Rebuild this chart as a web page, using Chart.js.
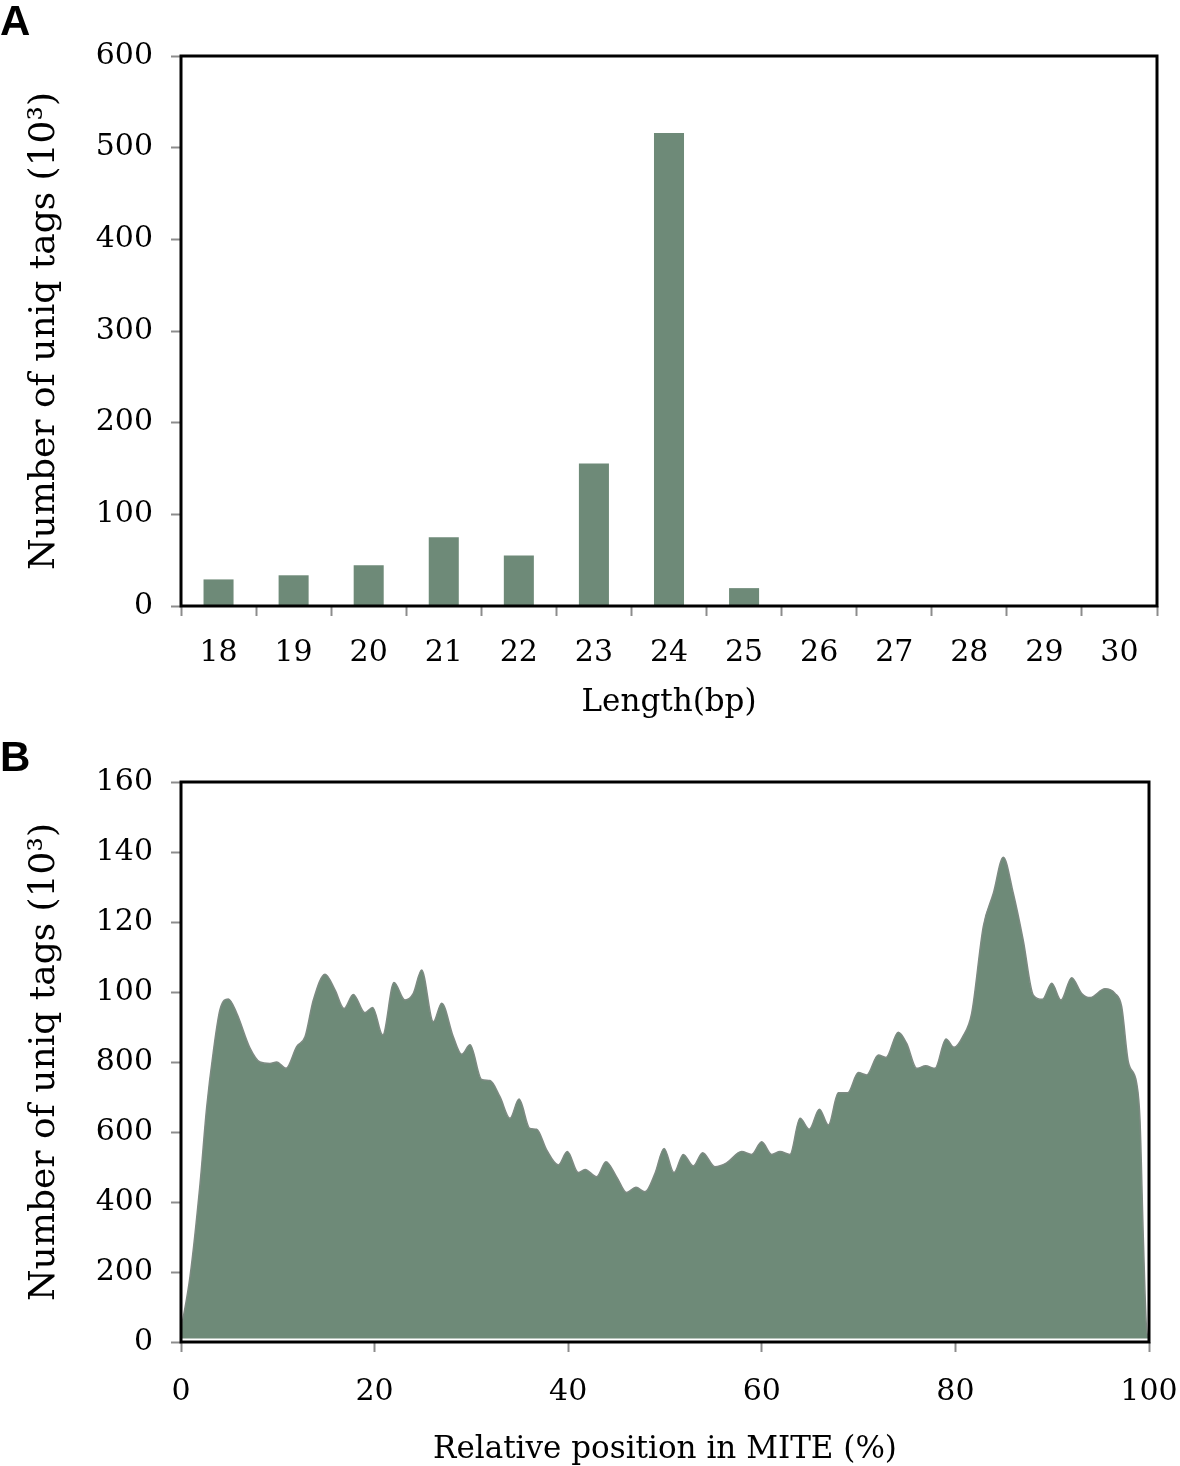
<!DOCTYPE html>
<html>
<head>
<meta charset="utf-8">
<script src="https://cdn.jsdelivr.net/npm/chart.js@4.4.1/dist/chart.umd.min.js"></script>
<style>
html,body{margin:0;padding:0;background:#fff;width:1180px;height:1466px;overflow:hidden;position:relative}
.panel{position:absolute;left:0;width:1180px}
#wrapA{top:0;height:734px}
#wrapB{top:730px;height:740px}
.lab{position:absolute;left:0;z-index:5;font-family:"Liberation Sans",Arial,sans-serif;font-weight:bold;font-size:42px;line-height:1;color:#000}
</style>
</head>
<body>
<div class="panel" id="wrapA"><canvas id="cA" width="1180" height="730"></canvas></div>
<div class="panel" id="wrapB"><canvas id="cB" width="1180" height="740"></canvas></div>
<div class="lab" style="top:0px">A</div>
<div class="lab" style="top:736px">B</div>
<script>
// ---------- Panel A data ----------
const lengthCategories = ['18','19','20','21','22','23','24','25','26','27','28','29','30'];
const uniqTagsByLength = [29, 33.5, 44.5, 75, 55, 155.5, 516, 19.5, 0, 0, 0, 0, 0];
const lengthYTicks = [0, 100, 200, 300, 400, 500, 600];

// ---------- Panel B data ----------
const mitePositions = [0, 0.93, 1.96, 2.65, 3.34, 4.03, 4.89, 5.75, 7.13, 8.16, 9.19, 9.88, 10.85, 11.95, 12.81, 13.67, 14.88, 15.91, 16.84, 17.8, 19.0, 19.8, 20.84, 22.0, 23.14, 24.0, 24.86, 26.07, 26.93, 28.13, 29.0, 29.86, 31.06, 31.92, 32.95, 33.99, 34.92, 36.05, 36.74, 37.77, 38.98, 39.91, 41.04, 41.74, 42.94, 43.9, 45.0, 46.04, 47.0, 47.93, 48.97, 49.9, 50.93, 51.89, 52.92, 53.89, 55.16, 56.37, 57.92, 58.95, 59.99, 61.02, 61.88, 62.91, 63.95, 64.91, 65.95, 66.88, 67.91, 68.87, 69.97, 70.83, 72.04, 72.83, 74.1, 74.97, 76.0, 76.93, 77.89, 79.03, 79.86, 80.75, 81.68, 82.88, 83.92, 84.95, 85.98, 87.0, 88.05, 89.0, 89.95, 90.91, 92.01, 93.05, 93.9, 95.45, 96.49, 97.18, 97.86, 98.73, 99.07, 99.41, 99.76, 100];
const miteCounts = [3.5, 18.7, 45, 67, 83, 95, 98, 94, 84, 80, 79.6, 80, 78.2, 84.4, 87.2, 97.7, 105.1, 100.6, 95.3, 99.3, 94.1, 95.6, 87.7, 102.7, 97.7, 99.6, 106.3, 91.5, 96.8, 87.2, 82.2, 84.9, 75.0, 74.7, 70.1, 63.9, 69.4, 61.0, 60.8, 54.9, 50.6, 54.4, 48.4, 49.3, 47.2, 51.5, 47.2, 42.7, 44.2, 42.9, 48.2, 55.3, 48.4, 53.6, 50.3, 54.1, 50.1, 51.2, 54.4, 53.6, 57.2, 53.6, 54.4, 53.6, 63.9, 60.8, 66.5, 62.0, 71.2, 71.2, 77.0, 76.3, 82.0, 81.3, 88.5, 85.3, 78.2, 78.9, 78.2, 86.6, 84.2, 87.2, 93.9, 118.7, 128.2, 138.5, 128.2, 114.9, 99.1, 97.9, 102.5, 97.7, 104.1, 99.6, 98.4, 100.9, 99.6, 95.8, 80.1, 73.9, 63.4, 30.1, 3.4, 1];
const positionXTicks = [0, 20, 40, 60, 80, 100];
const positionYTickValues = [0, 20, 40, 60, 80, 100, 120, 140, 160];
const positionYTickLabels = ['0', '200', '400', '600', '800', '100', '120', '140', '160'];

// ---------- Styling ----------
const FILL = '#6e8a78';
const SERIF = '"DejaVu Serif", "Liberation Serif", serif';
const tickFont = {family: SERIF, size: 30};
const yTitleFont = {family: SERIF, size: 36};
const xTitleFont = {family: SERIF, size: 31};

const boxPlugin = {
  id: 'plotBox',
  afterDraw(chart) {
    const {ctx, chartArea: a} = chart;
    ctx.save();
    ctx.strokeStyle = '#000';
    ctx.lineWidth = 3;
    ctx.strokeRect(a.left, a.top, a.right - a.left, a.bottom - a.top);
    ctx.restore();
  }
};

const gridCommon = {drawOnChartArea: false, drawTicks: true, tickLength: 10, tickColor: '#8c8c8c', tickWidth: 2};

// ---------- Chart A ----------
new Chart(document.getElementById('cA'), {
  type: 'bar',
  data: {
    labels: lengthCategories,
    datasets: [{
      data: uniqTagsByLength,
      backgroundColor: FILL,
      borderWidth: 0,
      categoryPercentage: 1.0,
      barPercentage: 0.4
    }]
  },
  options: {
    responsive: false,
    animation: false,
    devicePixelRatio: 1,
    layout: {padding: {top: 56, right: 23, left: 0, bottom: 0}},
    plugins: {legend: {display: false}, tooltip: {enabled: false}},
    scales: {
      x: {
        grid: Object.assign({offset: true}, gridCommon),
        border: {display: false},
        ticks: {font: tickFont, color: '#000', padding: 19, maxRotation: 0, autoSkip: false},
        title: {display: true, text: 'Length(bp)', font: xTitleFont, color: '#000', padding: {top: 0, bottom: 8}},
        afterFit(s) { s.height = 124; s.paddingLeft = 0; s.paddingRight = 0; }
      },
      y: {
        min: lengthYTicks[0],
        max: lengthYTicks[lengthYTicks.length - 1],
        afterBuildTicks(s) { s.ticks = lengthYTicks.map(v => ({value: v})); },
        grid: gridCommon,
        border: {display: false},
        ticks: {font: tickFont, color: '#000', padding: 18},
        title: {display: true, text: 'Number of uniq tags (10³)', font: yTitleFont, color: '#000', padding: {top: 23, bottom: 0}},
        afterFit(s) { s.width = 181; }
      }
    }
  },
  plugins: [boxPlugin]
});

// ---------- Chart B ----------
new Chart(document.getElementById('cB'), {
  type: 'line',
  data: {
    datasets: [{
      data: mitePositions.map((p, i) => ({x: p, y: miteCounts[i]})),
      borderColor: '#7d8a82',
      borderWidth: 1.5,
      backgroundColor: FILL,
      fill: {value: 1},
      pointRadius: 0,
      cubicInterpolationMode: 'monotone'
    }]
  },
  options: {
    responsive: false,
    animation: false,
    devicePixelRatio: 1,
    layout: {padding: {top: 52, right: 31, left: 0, bottom: 0}},
    plugins: {legend: {display: false}, tooltip: {enabled: false}},
    scales: {
      x: {
        type: 'linear',
        min: 0, max: 100,
        afterBuildTicks(s) { s.ticks = positionXTicks.map(v => ({value: v})); },
        grid: gridCommon,
        border: {display: false},
        ticks: {font: tickFont, color: '#000', padding: 22, maxRotation: 0},
        title: {display: true, text: 'Relative position in MITE (%)', font: xTitleFont, color: '#000', padding: {top: 0, bottom: 1}},
        afterFit(s) { s.height = 128; s.paddingLeft = 0; s.paddingRight = 0; }
      },
      y: {
        min: 0, max: 160,
        afterBuildTicks(s) { s.ticks = positionYTickValues.map(v => ({value: v})); },
        grid: gridCommon,
        border: {display: false},
        ticks: {
          font: tickFont, color: '#000', padding: 18,
          callback(v) { const i = positionYTickValues.indexOf(v); return i >= 0 ? positionYTickLabels[i] : ''; }
        },
        title: {display: true, text: 'Number of uniq tags (10³)', font: yTitleFont, color: '#000', padding: {top: 23, bottom: 0}},
        afterFit(s) { s.width = 181; s.paddingTop = 0; s.paddingBottom = 0; }
      }
    }
  },
  plugins: [boxPlugin]
});
</script>
</body>
</html>
